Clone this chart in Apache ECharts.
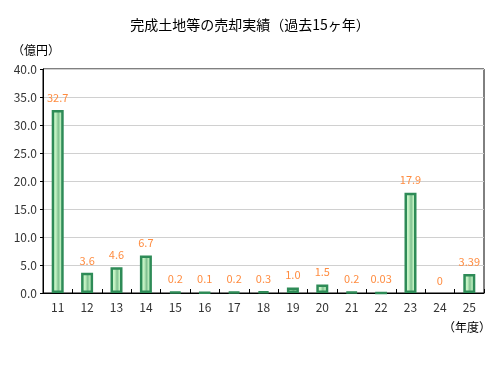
<!DOCTYPE html>
<html><head><meta charset="utf-8">
<script src="https://cdn.jsdelivr.net/npm/echarts@6/dist/echarts.min.js"></script>
<style>html,body{margin:0;padding:0;background:#fff}#c{width:500px;height:372px}</style>
</head><body><div id="c"></div>
<script>
const categories = ['11','12','13','14','15','16','17','18','19','20','21','22','23','24','25'];
const values = [32.7, 3.6, 4.6, 6.7, 0.2, 0.1, 0.2, 0.3, 1.0, 1.5, 0.2, 0.03, 17.9, 0, 3.39];
const valueLabels = ['32.7','3.6','4.6','6.7','0.2','0.1','0.2','0.3','1.0','1.5','0.2','0.03','17.9','0','3.39'];
const yTicks = [0, 5, 10, 15, 20, 25, 30, 35, 40];

const font = '"Noto Sans CJK JP", sans-serif';
const chart = echarts.init(document.getElementById('c'), null, {renderer: 'canvas'});
chart.setOption({
  animation: false,
  title: {
    text: '完成土地等の売却実績（過去15ヶ年）',
    left: 'center', top: 13,
    textStyle: {fontFamily: font, fontSize: 14, fontWeight: 'normal', color: '#000'}
  },
  graphic: [
    {type: 'text', left: 12, top: 44, style: {text: '（億円）', font: '12px ' + font, fill: '#000'}},
    {type: 'text', left: 443, top: 321, style: {text: '（年度）', font: '12px ' + font, fill: '#000'}}
  ],
  grid: {left: 43, right: 16, top: 69, bottom: 79, show: true, borderColor: '#000', borderWidth: 1, backgroundColor: 'transparent'},
  xAxis: {
    type: 'category', data: categories,
    axisLine: {lineStyle: {color: '#000'}},
    axisTick: {show: true, inside: true, length: 4, alignWithLabel: false, lineStyle: {color: '#000'}},
    axisLabel: {fontFamily: font, fontSize: 12, color: '#333', margin: 8}
  },
  yAxis: {
    type: 'value', min: yTicks[0], max: yTicks[yTicks.length - 1], interval: 5,
    axisLine: {show: true, lineStyle: {color: '#000'}},
    axisTick: {show: true, length: 3, lineStyle: {color: '#000'}},
    splitLine: {lineStyle: {color: '#d0d0d0'}},
    axisLabel: {fontFamily: font, fontSize: 12, color: '#333', margin: 6, formatter: v => v.toFixed(1)}
  },
  series: [{
    type: 'bar',
    data: values.map(v => v === 0 ? {value: v, itemStyle: {borderWidth: 0, color: 'rgba(0,0,0,0)'}} : v),
    barWidth: 12,
    itemStyle: {
      color: {type: 'linear', x: 0, y: 0, x2: 1, y2: 0, colorStops: [
        {offset: 0, color: '#d8ffd8'}, {offset: 0.35, color: '#c0f0c0'},
        {offset: 0.55, color: '#80c090'}, {offset: 0.75, color: '#c0f0c0'}, {offset: 1, color: '#d8ffd8'}
      ]},
      borderColor: '#2e8b57', borderWidth: 2.5
    },
    label: {
      show: true, position: 'top', distance: 7,
      fontFamily: font, fontSize: 11, color: '#ff8c40',
      formatter: p => valueLabels[p.dataIndex]
    }
  }]
});
</script></body></html>
